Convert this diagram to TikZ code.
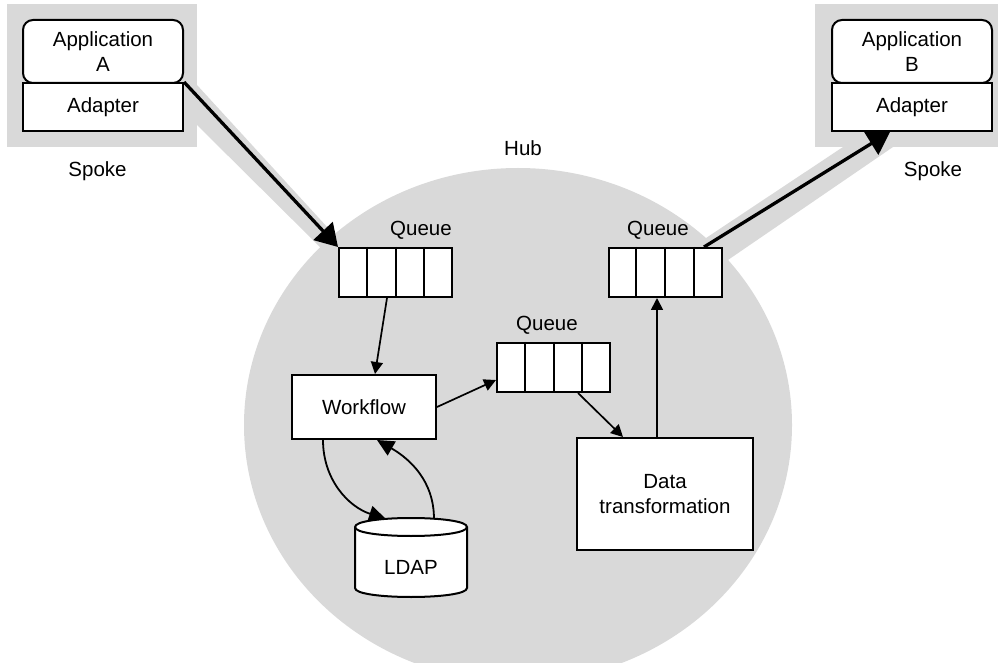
\documentclass[tikz,border=0pt]{standalone}
\usepackage{fontspec}
\setmainfont{Liberation Sans}
\usepackage{tikz}
\usetikzlibrary{calc}
\usetikzlibrary{arrows.meta}

\definecolor{hubgray}{RGB}{217,217,217}

\begin{document}
\begin{tikzpicture}[x=1pt,y=1pt,
        every node/.style={font=\fontsize{20.5}{24.5}\selectfont},
        box/.style={draw,line width=2pt,fill=white,inner sep=0pt},
        appbox/.style={box,rounded corners=10pt,minimum width=160pt,minimum height=63pt,align=center},
        adapterbox/.style={box,minimum width=160pt,minimum height=48pt},
        queuebox/.style={box,minimum width=113pt,minimum height=49pt},
        thinarrow/.style={line width=1.7pt,-{Triangle[length=12pt,width=12pt]}},
        curvearrow/.style={line width=1.8pt,-{Triangle[length=17pt,width=16pt]}},
        spokearrow/.style={line width=3.3pt,-{Triangle[length=22pt,width=26pt]}}]
        \useasboundingbox (0,0) rectangle (998,662);
        \clip (0,0) rectangle (998,662);

        % gray background: hub, spokes and the bands between them
        \fill[hubgray] (518,237) ellipse [x radius=274, y radius=257];
        \fill[hubgray] (7,515) rectangle (197,658);
        \fill[hubgray] (815,515) rectangle (998,658);
        \fill[hubgray] (197,577) -- (350,410) -- (325,410) -- (197,537) -- cycle;
        \fill[hubgray] (843,515) -- (893,515) -- (725,400) -- (700,420) -- cycle;

        % spoke A
        \node[adapterbox] (adaptA) at (103,555) {Adapter};
        \node[appbox] (appA) at (103,610.5) {Application\\A};
        \node[] (spokeA) at (97.5,491) {Spoke};
        % spoke B
        \node[adapterbox] (adaptB) at (912,555) {Adapter};
        \node[appbox] (appB) at (912,610.5) {Application\\B};
        \node[] (spokeB) at (933,491) {Spoke};

        \node[] (hub) at (523,514) {Hub};

        % queues
        \node[queuebox] (qin) at (395.5,389.5) {};
        \node[queuebox] (qmid) at (553.5,294.5) {};
        \node[queuebox] (qout) at (665,389.5) {};
        \foreach \q in {qin,qmid,qout}
            \foreach \i in {1,2,3}
                \draw[line width=2pt] ($(\q.north west)!\i/4!(\q.north east)$) -- ($(\q.south west)!\i/4!(\q.south east)$);
        \node[] (lqin) at (421,432) {Queue};
        \node[] (lqmid) at (547,337) {Queue};
        \node[] (lqout) at (658,432) {Queue};

        % workflow, LDAP and transformation
        \node[box,minimum width=144pt,minimum height=64pt] (wf) at (364,255) {Workflow};
        \node[box,minimum width=176pt,minimum height=112pt,align=center] (dt) at (665,168) {Data\\transformation};
        \node[minimum width=112pt,minimum height=61pt,inner sep=0pt,outer sep=0pt] (ldap) at (411,104.5) {};
        \draw[line width=2pt,fill=white] (ldap.north west) .. controls +(0,12) and +(0,12) .. (ldap.north east)
            -- (ldap.south east) .. controls +(0,-12) and +(0,-12) .. (ldap.south west) -- cycle;
        \draw[line width=2pt] (ldap.north west) .. controls +(0,-12) and +(0,-12) .. (ldap.north east);
        \node[] (ldaptext) at ([yshift=-9.5pt]ldap.center) {LDAP};

        % connectors
        \draw[spokearrow] (adaptA.north east) -- (qin.north west);
        \draw[spokearrow] ([xshift=39pt]qout.north) -- ([xshift=-22pt]adaptB.south);
        \draw[thinarrow] ([xshift=-8.5pt]qin.south) -- ([xshift=11pt]wf.north);
        \draw[thinarrow] (wf.east) -- ([yshift=-12.5pt]qmid.west);
        \draw[thinarrow] ([xshift=24.5pt]qmid.south) -- ([xshift=-42pt]dt.north);
        \draw[thinarrow] ([xshift=-8pt]dt.north) -- ([xshift=-8pt]qout.south);
        \draw[curvearrow] ([xshift=-41pt]wf.south) to[out=-90,in=162] ([xshift=-25pt,yshift=8pt]ldap.north);
        \draw[curvearrow] ([xshift=23pt,yshift=8pt]ldap.north) to[out=90,in=-30] ([xshift=13pt]wf.south);
\end{tikzpicture}
\end{document}
